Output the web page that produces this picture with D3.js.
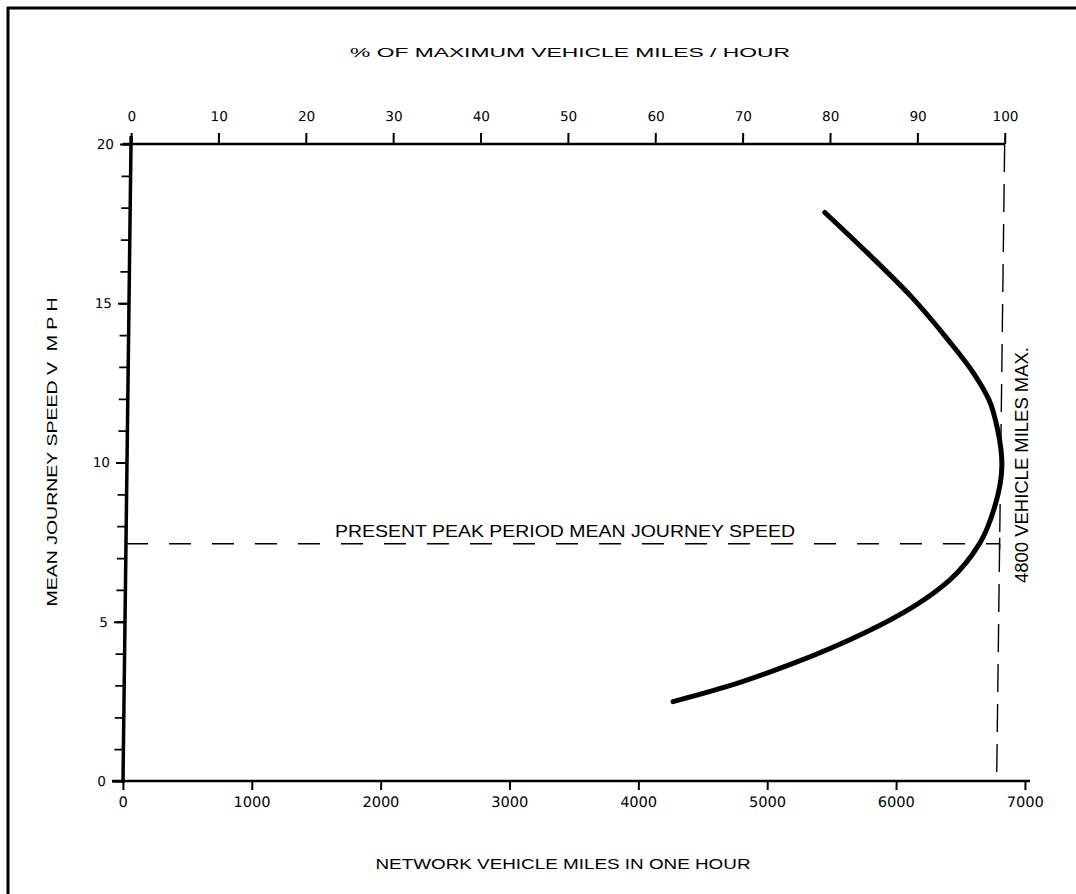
<!DOCTYPE html>
<html>
<head>
<meta charset="utf-8">
<script src="https://cdn.jsdelivr.net/npm/d3@7"></script>
<style>
  html, body { margin: 0; padding: 0; background: #fff; }
  svg { display: block; font-family: "Liberation Sans", Arial, sans-serif; }
  text { fill: #000; white-space: pre; }
</style>
</head>
<body>
<svg id="chart" width="1076" height="894"></svg>
<script>
// ---- data ----
const speedDomain = [0, 20];
const milesDomain = [0, 7000];
const speedMajorTicks = [0, 5, 10, 15, 20];
const speedMinorTicks = d3.range(0, 21, 1);
const milesTicks = [0, 1000, 2000, 3000, 4000, 5000, 6000, 7000];
const pctTicks = [0, 10, 20, 30, 40, 50, 60, 70, 80, 90, 100];
const maxVehicleMiles = 6780;
const presentPeakSpeed = 7.45;
// curve, ordered from high speed to low speed
const curveMiles = [5391, 5726, 6072, 6360, 6562, 6684, 6754, 6790, 6738, 6625, 6396, 6114, 5734, 5194, 4674, 4261];
const curveSpeed = [17.85, 16.58, 15.20, 13.85, 12.80, 11.96, 11.02, 9.9, 8.61, 7.46, 6.31, 5.47, 4.64, 3.70, 2.96, 2.49];
const titleTop = "% OF MAXIMUM VEHICLE MILES / HOUR";
const titleBottom = "NETWORK VEHICLE MILES IN ONE HOUR";
const titleLeft = "MEAN JOURNEY SPEED V  M P H";
const peakLabel = "PRESENT PEAK PERIOD MEAN JOURNEY SPEED";
const maxLabel = "4800 VEHICLE MILES MAX.";

// ---- layout ----
const svg = d3.select("#chart");
const y = d3.scaleLinear().domain(speedDomain).range([781, 144]);
const x = d3.scaleLinear().domain(milesDomain).range([123, 1025]);
const xPct = d3.scaleLinear().domain([0, 100]).range([x(0), x(maxVehicleMiles)]);
const tickFont = "DejaVu Sans, Verdana, sans-serif";

// page border (top and left)
svg.append("line").attr("x1", 7).attr("y1", 8).attr("x2", 1076).attr("y2", 8)
  .attr("stroke", "#000").attr("stroke-width", 3);
svg.append("line").attr("x1", 8).attr("y1", 7).attr("x2", 8).attr("y2", 894)
  .attr("stroke", "#000").attr("stroke-width", 3);

// slight shear of the scanned original
const k = 8 / 637;
const g = svg.append("g")
  .attr("transform", `translate(${k * y(0)},0) skewX(${-Math.atan(k) * 180 / Math.PI})`);

// bottom axis
const bottomAxis = g.append("g").attr("transform", `translate(0,${y(0)})`)
  .call(d3.axisBottom(x).tickValues(milesTicks).tickFormat(d3.format("d")).tickSize(9).tickPadding(7));
bottomAxis.select(".domain").remove();
bottomAxis.selectAll(".tick line").attr("stroke", "#000").attr("stroke-width", 2);
bottomAxis.selectAll(".tick text").attr("font-size", 14.5).attr("font-family", tickFont).attr("fill", "#000");
g.append("line").attr("x1", x(0) - 11).attr("x2", x(7000) + 5)
  .attr("y1", y(0)).attr("y2", y(0)).attr("stroke", "#000").attr("stroke-width", 2.5);

// top axis (% of maximum)
const topAxis = g.append("g").attr("transform", `translate(0,${y(20)})`)
  .call(d3.axisTop(xPct).tickValues(pctTicks).tickFormat(d3.format("d")).tickSize(11).tickPadding(12));
topAxis.select(".domain").remove();
topAxis.selectAll(".tick line").attr("stroke", "#000").attr("stroke-width", 2);
topAxis.selectAll(".tick text").attr("font-size", 13.5).attr("font-family", tickFont).attr("fill", "#000");
g.append("line").attr("x1", x(0) - 8).attr("x2", xPct(100))
  .attr("y1", y(20)).attr("y2", y(20)).attr("stroke", "#000").attr("stroke-width", 2.5);

// left axis
const leftMinor = g.append("g").attr("transform", `translate(${x(0)},0)`)
  .call(d3.axisLeft(y).tickValues(speedMinorTicks).tickFormat("").tickSize(9));
leftMinor.select(".domain").remove();
leftMinor.selectAll(".tick line").attr("stroke", "#000").attr("stroke-width", 1.8);
const leftMajor = g.append("g").attr("transform", `translate(${x(0)},0)`)
  .call(d3.axisLeft(y).tickValues(speedMajorTicks).tickFormat(d3.format("d")).tickSize(11).tickPadding(6));
leftMajor.select(".domain").remove();
leftMajor.selectAll(".tick line").attr("stroke", "#000").attr("stroke-width", 1.8);
leftMajor.selectAll(".tick text").attr("font-size", 13.5).attr("font-family", tickFont).attr("fill", "#000");
g.append("line").attr("x1", x(0)).attr("x2", x(0))
  .attr("y1", y(0) + 2).attr("y2", y(20) - 8).attr("stroke", "#000").attr("stroke-width", 3.5);

// maximum vehicle miles dashed line
g.append("line").attr("x1", x(maxVehicleMiles)).attr("x2", x(maxVehicleMiles))
  .attr("y1", y(20)).attr("y2", y(0))
  .attr("stroke", "#000").attr("stroke-width", 1.4).attr("stroke-dasharray", "28,12");

// present peak period dashed line
g.append("line").attr("x1", x(0)).attr("x2", x(maxVehicleMiles))
  .attr("y1", y(presentPeakSpeed)).attr("y2", y(presentPeakSpeed))
  .attr("stroke", "#000").attr("stroke-width", 1.5).attr("stroke-dasharray", "22,21");
g.append("line").attr("x1", x(maxVehicleMiles)).attr("x2", x(maxVehicleMiles))
  .attr("y1", y(presentPeakSpeed) - 6).attr("y2", y(presentPeakSpeed) + 6)
  .attr("stroke", "#000").attr("stroke-width", 1.5);

// speed-flow curve
const pts = curveMiles.map((m, i) => [m, curveSpeed[i]]);
g.append("path").datum(pts)
  .attr("fill", "none").attr("stroke", "#000").attr("stroke-width", 5)
  .attr("stroke-linecap", "round").attr("stroke-linejoin", "round")
  .attr("d", d3.line().x(d => x(d[0])).y(d => y(d[1])).curve(d3.curveMonotoneY));

// labels
svg.append("text").attr("x", 570).attr("y", 57).attr("text-anchor", "middle")
  .attr("font-size", 13).attr("textLength", 440).attr("lengthAdjust", "spacingAndGlyphs")
  .text(titleTop);
svg.append("text").attr("x", 563).attr("y", 869).attr("text-anchor", "middle")
  .attr("font-size", 14).attr("textLength", 375).attr("lengthAdjust", "spacingAndGlyphs")
  .text(titleBottom);
svg.append("text").attr("transform", "translate(57,452) rotate(-90)").attr("text-anchor", "middle")
  .attr("font-size", 15).attr("textLength", 309).attr("lengthAdjust", "spacingAndGlyphs")
  .text(titleLeft);
svg.append("text").attr("x", 565).attr("y", 537).attr("text-anchor", "middle")
  .attr("font-size", 16).attr("textLength", 460).attr("lengthAdjust", "spacingAndGlyphs")
  .text(peakLabel);
svg.append("text").attr("transform", "translate(1028,465) rotate(-90)").attr("text-anchor", "middle")
  .attr("font-size", 18).attr("textLength", 236).attr("lengthAdjust", "spacingAndGlyphs")
  .text(maxLabel);
</script>
</body>
</html>
